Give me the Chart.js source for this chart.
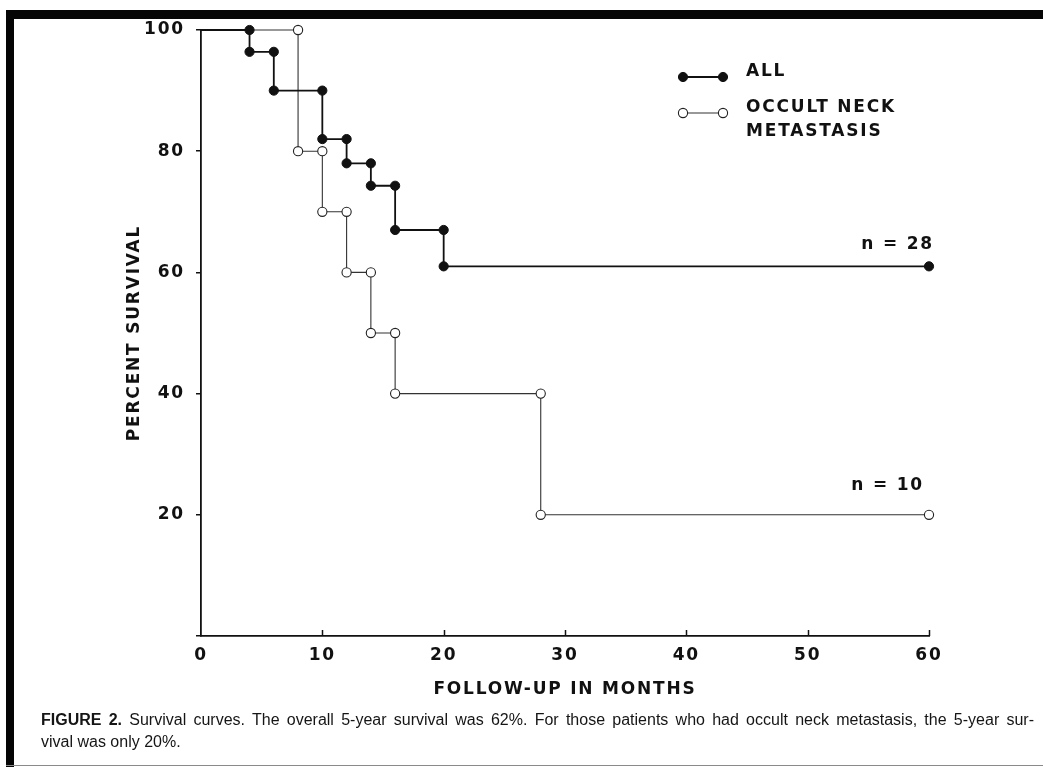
<!DOCTYPE html>
<html>
<head>
<meta charset="utf-8">
<title>Survival curves</title>
<script src="https://cdn.jsdelivr.net/npm/chart.js@4.4.1/dist/chart.umd.min.js"></script>
<style>
  html, body { margin: 0; padding: 0; background: #fff; }
  #page { position: relative; width: 1043px; height: 767px; overflow: hidden; background: #fff;
          font-family: "Liberation Sans", Arial, Helvetica, sans-serif; color: #111; }
  #chart { position: absolute; left: 0; top: 0; }
  .bar-top { position: absolute; left: 6px; top: 10px; width: 1037px; height: 9px; background: #050505; }
  .bar-left { position: absolute; left: 6px; top: 10px; width: 8px; height: 757px; background: #050505; }
  .rule-bottom { position: absolute; left: 6px; top: 765px; width: 1037px; height: 1px; background: #8a8a8a; }
  .caption { position: absolute; left: 41px; width: 993px; font-size: 16px; line-height: 22px; color: #151515; white-space: nowrap; }
  .caption.first { top: 709px; text-align: justify; text-align-last: justify; white-space: normal; }
  .caption.second { top: 731px; }
  .caption b { font-weight: bold; }
</style>
</head>
<body>
<div id="page">
  <div class="bar-top"></div>
  <div class="bar-left"></div>
  <div class="rule-bottom"></div>
  <canvas id="chart" width="1043" height="767"></canvas>
  <div class="caption first"><b>FIGURE 2.</b> Survival curves. The overall 5-year survival was 62%. For those patients who had occult neck metastasis, the 5-year sur-</div>
  <div class="caption second">vival was only 20%.</div>
</div>
<script>
// Kaplan-Meier style survival: month of each death and survival (%) after it
const allMonths = [4, 6, 10, 12, 14, 16, 20];
const allSurvival = [96.4, 90, 82, 78, 74.3, 67, 61];
const allLastFollowUp = 60;
const allN = 28;

const occultMonths = [8, 10, 12, 14, 16, 28];
const occultSurvival = [80, 70, 60, 50, 40, 20];
const occultLastFollowUp = 60;
const occultN = 10;

// axis ticks
const xTicks = [0, 10, 20, 30, 40, 50, 60];
const yTicks = [0, 20, 40, 60, 80, 100];
const yHiddenLabels = [0];

const xTitle = 'FOLLOW-UP IN MONTHS';
const yTitle = 'PERCENT SURVIVAL';
const allLabel = ['ALL'];
const occultLabel = ['OCCULT NECK', 'METASTASIS'];

// turn event lists into the corner points of a step curve
function stepPoints(months, survival, lastMonth) {
  const pts = [{ x: 0, y: 100 }];
  let prev = 100;
  months.forEach((m, i) => {
    pts.push({ x: m, y: prev });
    pts.push({ x: m, y: survival[i] });
    prev = survival[i];
  });
  pts.push({ x: lastMonth, y: prev });
  return pts;
}

const FONT = '"DejaVu Sans", Verdana, sans-serif';
const FONT_SIZE = 17;
const INK = '#111';
const SPACING = '1.8px';

const markerRadius = (ctx) => (ctx.dataIndex === 0 ? 0 : 4.6);

const allStyle = { line: '#111', lineWidth: 1.8, fill: '#111', stroke: '#111', markerWidth: 1 };
const occultStyle = { line: '#333', lineWidth: 1.1, fill: '#fff', stroke: '#222', markerWidth: 1.1 };

// legend, group sizes and inward x tick marks
const extras = {
  id: 'extras',
  beforeDraw(chart) {
    chart.ctx.letterSpacing = SPACING;
  },
  afterDraw(chart) {
    const { ctx, scales: { x, y } } = chart;
    ctx.save();
    ctx.letterSpacing = '0px';
    // x tick marks pointing into the plot
    ctx.strokeStyle = INK;
    ctx.lineWidth = 1.5;
    x.ticks.forEach(t => {
      if (t.value === 0) return;
      const px = Math.round(x.getPixelForValue(t.value)) + 0.5;
      ctx.beginPath();
      ctx.moveTo(px, y.bottom);
      ctx.lineTo(px, y.bottom - 6);
      ctx.stroke();
    });

    // legend
    const entries = [
      { style: allStyle, lines: allLabel, y: 77, textY: 72 },
      { style: occultStyle, lines: occultLabel, y: 113, textY: 107.5 }
    ];
    entries.forEach(e => {
      ctx.strokeStyle = e.style.line;
      ctx.lineWidth = e.style.lineWidth;
      ctx.beginPath();
      ctx.moveTo(683, e.y);
      ctx.lineTo(723, e.y);
      ctx.stroke();
      [683, 723].forEach(cx => {
        ctx.beginPath();
        ctx.arc(cx, e.y, 4.6, 0, Math.PI * 2);
        ctx.fillStyle = e.style.fill;
        ctx.fill();
        ctx.lineWidth = e.style.markerWidth;
        ctx.strokeStyle = e.style.stroke;
        ctx.stroke();
      });
      ctx.fillStyle = INK;
      ctx.font = 'bold ' + FONT_SIZE + 'px ' + FONT;
      ctx.letterSpacing = SPACING;
      ctx.textAlign = 'left';
      ctx.textBaseline = 'middle';
      e.lines.forEach((txt, i) => ctx.fillText(txt, 746, e.textY + i * 24.5));
      ctx.letterSpacing = '0px';
    });

    // group sizes at the end of each curve
    ctx.font = 'bold ' + FONT_SIZE + 'px ' + FONT;
    ctx.letterSpacing = SPACING;
    ctx.fillStyle = INK;
    ctx.textAlign = 'right';
    ctx.textBaseline = 'middle';
    ctx.fillText('n = ' + allN, x.getPixelForValue(allLastFollowUp) + 5,
      y.getPixelForValue(allSurvival[allSurvival.length - 1]) - 22);
    ctx.fillText('n = ' + occultN, x.getPixelForValue(occultLastFollowUp) - 5,
      y.getPixelForValue(occultSurvival[occultSurvival.length - 1]) - 29);
    ctx.restore();
  }
};

const labelFont = { family: FONT, size: FONT_SIZE, weight: 'bold' };

new Chart(document.getElementById('chart'), {
  type: 'line',
  data: {
    datasets: [
      {
        label: allLabel.join(' '),
        data: stepPoints(allMonths, allSurvival, allLastFollowUp),
        borderColor: allStyle.line,
        borderWidth: allStyle.lineWidth,
        pointBackgroundColor: allStyle.fill,
        pointBorderColor: allStyle.stroke,
        pointBorderWidth: allStyle.markerWidth,
        pointRadius: markerRadius,
        tension: 0,
        clip: false
      },
      {
        label: occultLabel.join(' '),
        data: stepPoints(occultMonths, occultSurvival, occultLastFollowUp),
        borderColor: occultStyle.line,
        borderWidth: occultStyle.lineWidth,
        pointBackgroundColor: occultStyle.fill,
        pointBorderColor: occultStyle.stroke,
        pointBorderWidth: occultStyle.markerWidth,
        pointRadius: markerRadius,
        tension: 0,
        clip: false
      }
    ]
  },
  options: {
    responsive: false,
    devicePixelRatio: 1,
    animation: false,
    events: [],
    layout: { padding: { left: 0, top: 30, right: 114, bottom: 0 } },
    plugins: { legend: { display: false }, tooltip: { enabled: false } },
    scales: {
      x: {
        type: 'linear',
        min: 0,
        max: 60,
        afterBuildTicks: (s) => { s.ticks = xTicks.map(v => ({ value: v })); },
        afterFit: (s) => { s.height = 131; },
        ticks: { color: INK, font: labelFont, padding: 9, maxRotation: 0 },
        grid: { display: true, drawOnChartArea: false, drawTicks: false },
        border: { display: true, color: INK, width: 1.8 },
        title: { display: true, text: xTitle, color: INK, font: labelFont,
                 padding: { top: 0, bottom: 67 } }
      },
      y: {
        type: 'linear',
        min: 0,
        max: 100,
        afterBuildTicks: (s) => { s.ticks = yTicks.map(v => ({ value: v })); },
        afterFit: (s) => { s.width = 201; },
        ticks: {
          color: INK,
          font: labelFont,
          padding: 11,
          callback: (v) => (yHiddenLabels.includes(v) ? '' : String(v))
        },
        grid: { display: true, drawOnChartArea: false, drawTicks: true, tickLength: 5, color: INK, lineWidth: 1.5 },
        border: { display: true, color: INK, width: 1.8 },
        title: { display: true, text: yTitle, color: INK, font: labelFont,
                 padding: { top: 124, bottom: 0 } }
      }
    }
  },
  plugins: [extras]
});
</script>
</body>
</html>
